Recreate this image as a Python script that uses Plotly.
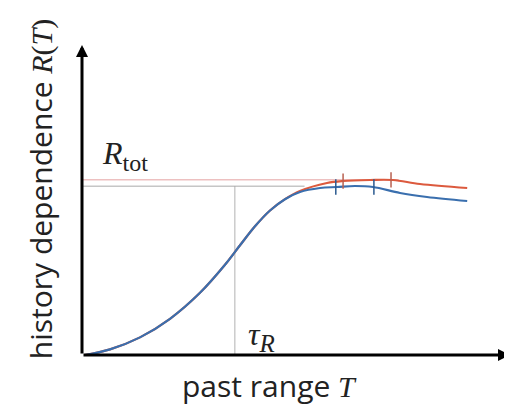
import plotly.graph_objects as go

# data (x: past range T, y: history dependence R(T)), arbitrary units
T_shared = [0.070, 0.654, 1.355, 2.056, 2.757, 3.341, 3.692, 4.042, 4.393, 4.743]
R_shared = [0.0, 0.0181, 0.0568, 0.1168, 0.2006, 0.2910, 0.3539, 0.4152, 0.4661, 0.5026]
T_blue = T_shared + [5.093, 5.561, 5.958, 6.379, 6.799, 7.430, 8.061, 9.0]
R_blue = R_shared + [0.5258, 0.5387, 0.5419, 0.5452, 0.5419, 0.5226, 0.5097, 0.4968]
T_red = T_shared + [5.093, 5.724, 6.098, 6.729, 7.266, 7.897, 9.0]
R_red = R_shared + [0.529, 0.5548, 0.5613, 0.5645, 0.5645, 0.5516, 0.5387]
T_blue_marks = [5.93, 6.82]
R_blue_marks = [0.542, 0.542]
T_red_marks = [6.10, 7.22]
R_red_marks = [0.561, 0.565]
R_tot_red = 0.565
R_tot_blue = 0.544
tau_R = 3.57

BLUE = "#3a6fae"
RED = "#dc5a3e"

fig = go.Figure()
# reference lines
fig.add_trace(go.Scatter(x=[0, 7.4], y=[R_tot_red, R_tot_red], mode="lines",
                         line=dict(color="rgba(225,150,150,0.6)", width=1.5), hoverinfo="skip"))
fig.add_trace(go.Scatter(x=[0, 5.2], y=[R_tot_blue, R_tot_blue], mode="lines",
                         line=dict(color="rgba(160,160,160,0.6)", width=1.5), hoverinfo="skip"))
fig.add_trace(go.Scatter(x=[tau_R, tau_R], y=[0, R_tot_blue], mode="lines",
                         line=dict(color="rgba(160,160,160,0.55)", width=1.5), hoverinfo="skip"))
# curves
fig.add_trace(go.Scatter(x=T_red, y=R_red, mode="lines", line=dict(color=RED, width=2.2, shape="spline", smoothing=1.0)))
fig.add_trace(go.Scatter(x=T_blue, y=R_blue, mode="lines", line=dict(color=BLUE, width=2.2, shape="spline", smoothing=1.0)))
fig.add_trace(go.Scatter(x=T_red_marks, y=R_red_marks, mode="markers",
                         marker=dict(symbol="line-ns", size=11, line=dict(color="#b86050", width=1.5))))
fig.add_trace(go.Scatter(x=T_blue_marks, y=R_blue_marks, mode="markers",
                         marker=dict(symbol="line-ns", size=11, line=dict(color="#2a5a90", width=1.5))))

# axes with arrows
fig.add_annotation(x=0, y=1, ax=0, ay=0, xref="x", yref="y", axref="x", ayref="y",
                   showarrow=True, arrowhead=2, arrowsize=0.8, arrowwidth=3, arrowcolor="black", text="")
fig.add_annotation(x=10, y=0, ax=0, ay=0, xref="x", yref="y", axref="x", ayref="y",
                   showarrow=True, arrowhead=2, arrowsize=0.8, arrowwidth=3, arrowcolor="black", text="")

serif = "Liberation Serif"
sans = "Open Sans"
fig.add_annotation(x=0.42, y=0.642, xref="x", yref="y", xanchor="left", yanchor="middle", showarrow=False,
                   text="<i>R</i><sub><span style='font-size:24px'>tot</span></sub>",
                   font=dict(family=serif, size=32, color="#222"))
fig.add_annotation(x=3.84, y=0.061, xref="x", yref="y", xanchor="left", yanchor="middle", showarrow=False,
                   text="<i>τ</i><sub><span style='font-size:25px'><i>R</i></span></sub>",
                   font=dict(family=serif, size=32, color="#222"))
fig.add_annotation(x=0.439, y=-0.097, xref="paper", yref="paper", xanchor="center", yanchor="middle",
                   showarrow=False,
                   text="past range <span style='font-family:Liberation Serif'><i>T</i></span>",
                   font=dict(family=sans, size=30, color="#222"))
fig.add_annotation(x=-0.098, y=0.535, xref="paper", yref="paper", xanchor="center", yanchor="middle",
                   textangle=-90, showarrow=False,
                   text="history dependence <span style='font-family:Liberation Serif'><i>R</i>(<i>T</i>)</span>",
                   font=dict(family=sans, size=30, color="#222"))

fig.update_xaxes(range=[0, 10], visible=False)
fig.update_yaxes(range=[0, 1], visible=False)
# page body adds an 8px margin, so the figure is 8px smaller than the window
fig.update_layout(width=504, height=397, margin=dict(l=74, r=2, t=37, b=50),
                  plot_bgcolor="white", paper_bgcolor="white", showlegend=False)
fig.write_html("out.html")
